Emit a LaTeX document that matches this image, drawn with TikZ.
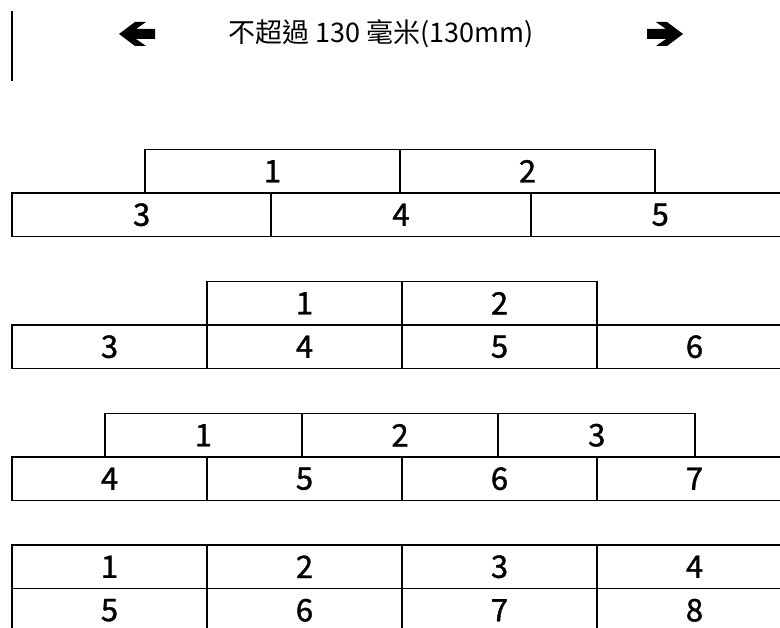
\documentclass[tikz,border=0pt]{standalone}
\usepackage{fontspec}
\setmainfont{Noto Sans CJK TC}
\newfontfamily\cellfont{Noto Sans CJK TC}[FakeBold=1.2]
\usetikzlibrary{positioning}
\begin{document}
\begin{tikzpicture}[x=1pt, y=-1pt, node distance=0pt]

\tikzstyle{cell} = [rectangle, draw=black, line width=1.9pt, minimum height=43.5pt, inner sep=0pt, outer sep=0pt, text centered, font=\cellfont\fontsize{31}{31}\selectfont]
\tikzstyle{wide} = [cell, minimum width=259.3pt]
\tikzstyle{upper} = [cell, minimum width=255pt]
\tikzstyle{narrow} = [cell, minimum width=195pt]
\tikzstyle{middle} = [cell, minimum width=196.7pt]
\tikzstyle{pointer} = [fill=black]

\useasboundingbox (0,0) rectangle (780,628);
\clip (0,0) rectangle (780,628);

\node (title) at (381,34) [font=\fontsize{27}{27}\selectfont] {不超過 130 毫米(130mm)};
\coordinate (lefttip) at (119,34);
\coordinate (righttip) at (683,34);
\coordinate (marktop) at (12,11);
\coordinate (markbot) at (12,81);

\fill [pointer] (lefttip) -- ++(16,-12) -- ++(11,0) -- ++(-10,7) -- ++(19,0) -- ++(0,10) -- ++(-19,0) -- ++(10,7) -- ++(-11,0) -- cycle;
\fill [pointer] (righttip) -- ++(-16,-12) -- ++(-11,0) -- ++(10,7) -- ++(-19,0) -- ++(0,10) -- ++(19,0) -- ++(-10,7) -- ++(11,0) -- cycle;
\draw [line width=2pt] (marktop) -- (markbot);

\node (ra3) [wide, anchor=north west] at (12,193) {3};
\node (ra4) [wide, right=of ra3] {4};
\node (ra5) [wide, right=of ra4] {5};
\node (ra1) [upper, anchor=south west] at (145,193) {1};
\node (ra2) [upper, right=of ra1] {2};

\node (rb3) [narrow, anchor=north west] at (12,325) {3};
\node (rb4) [narrow, right=of rb3] {4};
\node (rb5) [narrow, right=of rb4] {5};
\node (rb6) [narrow, right=of rb5] {6};
\node (rb1) [narrow, anchor=south west] at (207,325) {1};
\node (rb2) [narrow, right=of rb1] {2};

\node (rc4) [narrow, anchor=north west] at (12,457) {4};
\node (rc5) [narrow, right=of rc4] {5};
\node (rc6) [narrow, right=of rc5] {6};
\node (rc7) [narrow, right=of rc6] {7};
\node (rc1) [middle, anchor=south west] at (105,457) {1};
\node (rc2) [middle, right=of rc1] {2};
\node (rc3) [middle, right=of rc2] {3};

\node (rd1) [narrow, anchor=north west] at (12,545) {1};
\node (rd2) [narrow, right=of rd1] {2};
\node (rd3) [narrow, right=of rd2] {3};
\node (rd4) [narrow, right=of rd3] {4};
\node (rd5) [narrow, below=of rd1] {5};
\node (rd6) [narrow, right=of rd5] {6};
\node (rd7) [narrow, right=of rd6] {7};
\node (rd8) [narrow, right=of rd7] {8};

\end{tikzpicture}
\end{document}
